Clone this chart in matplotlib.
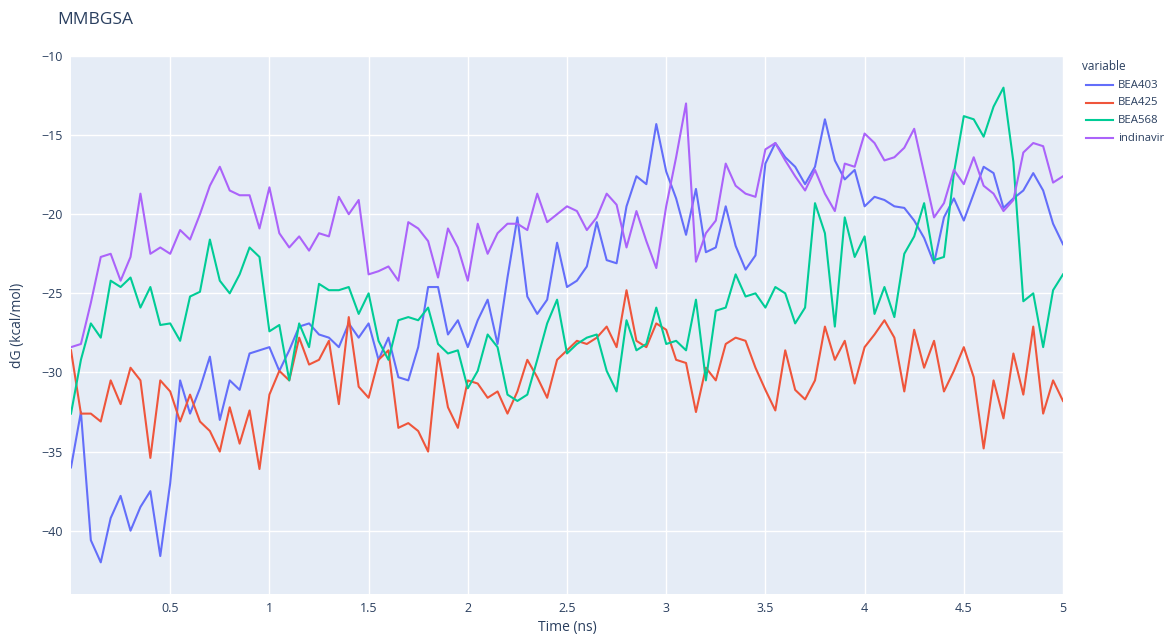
import numpy as np
import matplotlib
matplotlib.use("Agg")
import matplotlib.pyplot as plt
from matplotlib.lines import Line2D

plt.rcParams["font.family"] = ["Open Sans", "DejaVu Sans"]

# ---------- data (0.05 ns grid) ----------
time_ns = np.linspace(0, 5, 101)

bea403 = [-36.0, -32.5, -40.6, -42.0, -39.2, -37.8, -40.0, -38.5, -37.5, -41.6,
          -37.0, -30.5, -32.6, -31.0, -29.0, -33.0, -30.5, -31.1, -28.8, -28.6,
          -28.4, -29.9, -28.6, -27.1, -26.9, -27.6, -27.8, -28.4, -26.9, -27.8,
          -26.9, -29.2, -27.8, -30.3, -30.5, -28.4, -24.6, -24.6, -27.6, -26.7,
          -28.4, -26.7, -25.4, -28.2, -24.0, -20.2, -25.2, -26.3, -25.4, -21.8,
          -24.6, -24.2, -23.3, -20.5, -22.9, -23.1, -19.5, -17.6, -18.1, -14.3,
          -17.3, -19.0, -21.3, -18.4, -22.4, -22.1, -19.5, -22.0, -23.5, -22.6,
          -16.8, -15.5, -16.4, -17.0, -18.1, -17.0, -14.0, -16.6, -17.8, -17.2,
          -19.5, -18.9, -19.1, -19.5, -19.6, -20.4, -21.5, -23.1, -20.2, -19.0,
          -20.4, -18.7, -17.0, -17.4, -19.6, -19.0, -18.5, -17.4, -18.5, -20.6,
          -21.9]

bea425 = [-28.6, -32.6, -32.6, -33.1, -30.5, -32.0, -29.7, -30.5, -35.4, -30.5,
          -31.2, -33.1, -31.4, -33.1, -33.7, -35.0, -32.2, -34.5, -32.4, -36.1,
          -31.4, -29.9, -30.5, -27.8, -29.5, -29.2, -28.0, -32.0, -26.5, -30.9,
          -31.6, -29.2, -28.6, -33.5, -33.2, -33.7, -35.0, -28.8, -32.2, -33.5,
          -30.5, -30.7, -31.6, -31.2, -32.6, -31.2, -29.2, -30.3, -31.6, -29.2,
          -28.6, -28.0, -28.2, -27.8, -27.1, -28.4, -24.8, -28.0, -28.4, -26.9,
          -27.3, -29.2, -29.4, -32.5, -29.7, -30.5, -28.2, -27.8, -28.0, -29.7,
          -31.1, -32.4, -28.6, -31.1, -31.7, -30.5, -27.1, -29.2, -28.0, -30.7,
          -28.4, -27.6, -26.7, -27.8, -31.2, -27.3, -29.7, -28.0, -31.2, -29.9,
          -28.4, -30.3, -34.8, -30.5, -32.9, -28.8, -31.4, -27.1, -32.6, -30.5,
          -31.8]

bea568 = [-32.6, -29.2, -26.9, -27.8, -24.2, -24.6, -24.0, -25.9, -24.6, -27.0,
          -26.9, -28.0, -25.2, -24.9, -21.6, -24.2, -25.0, -23.8, -22.1, -22.7,
          -27.4, -27.0, -30.5, -26.9, -28.4, -24.4, -24.8, -24.8, -24.6, -26.3,
          -25.0, -28.0, -29.2, -26.7, -26.5, -26.7, -25.9, -28.2, -28.8, -28.6,
          -31.0, -29.9, -27.6, -28.4, -31.4, -31.8, -31.4, -29.2, -26.9, -25.4,
          -28.8, -28.2, -27.8, -27.6, -29.9, -31.2, -26.7, -28.6, -28.2, -25.9,
          -28.2, -28.0, -28.6, -25.4, -30.5, -26.1, -25.9, -23.8, -25.2, -25.0,
          -25.9, -24.6, -25.0, -26.9, -25.9, -19.3, -21.2, -27.1, -20.2, -22.7,
          -21.4, -26.3, -24.6, -26.5, -22.5, -21.4, -19.3, -22.9, -22.7, -17.4,
          -13.8, -14.0, -15.1, -13.2, -12.0, -16.7, -25.5, -25.0, -28.4, -24.8,
          -23.8]

indinavir = [-28.4, -28.2, -25.6, -22.7, -22.5, -24.2, -22.7, -18.7, -22.5, -22.1,
             -22.5, -21.0, -21.6, -20.0, -18.2, -17.0, -18.5, -18.8, -18.8, -20.9,
             -18.3, -21.2, -22.1, -21.4, -22.3, -21.2, -21.4, -18.9, -20.0, -19.1,
             -23.8, -23.6, -23.3, -24.2, -20.5, -20.9, -21.7, -24.0, -20.9, -22.1,
             -24.2, -20.6, -22.5, -21.2, -20.6, -20.6, -21.0, -18.7, -20.5, -20.0,
             -19.5, -19.8, -21.0, -20.2, -18.7, -19.4, -22.1, -19.8, -21.7, -23.4,
             -19.5, -16.4, -13.0, -23.0, -21.2, -20.4, -16.8, -18.2, -18.7, -18.9,
             -15.9, -15.5, -16.6, -17.6, -18.5, -17.2, -18.7, -19.8, -16.8, -17.0,
             -14.9, -15.5, -16.6, -16.4, -15.8, -14.6, -17.4, -20.2, -19.3, -17.2,
             -18.1, -16.4, -18.2, -18.7, -19.8, -19.1, -16.1, -15.5, -15.7, -18.0,
             -17.6]

series_names = ["BEA403", "BEA425", "BEA568", "indinavir"]
series_vals = [bea403, bea425, bea568, indinavir]
colors = ["#636EFA", "#EF553B", "#00CC96", "#AB63FA"]
xticks = [0.5, 1, 1.5, 2, 2.5, 3, 3.5, 4, 4.5, 5]
xticklabels = ["0.5", "1", "1.5", "2", "2.5", "3", "3.5", "4", "4.5", "5"]
yticks = [-40, -35, -30, -25, -20, -15, -10]

TXT = "#2a3f5f"
W, H = 1169, 635
fig = plt.figure(figsize=(W / 100, H / 100), dpi=100)
ax = fig.add_axes([71 / W, 1 - 594 / H, (1063 - 71) / W, (594 - 56) / H])
ax.set_facecolor("#E5ECF6")

for name, vals, c in zip(series_names, series_vals, colors):
    ax.plot(time_ns, vals, color=c, lw=1.5, label=name, solid_joinstyle="round")

ax.set_xlim(0, 5)
ax.set_ylim(-44.0, -10)
ax.set_xticks(xticks)
ax.set_xticklabels(xticklabels)
ax.set_yticks(yticks)
ax.set_yticklabels([f"\u2212{abs(v)}" for v in yticks])
ax.grid(color="white", lw=1.0)
ax.set_axisbelow(True)
ax.tick_params(length=0, labelsize=9, colors=TXT, pad=6)
for s in ax.spines.values():
    s.set_visible(False)

fig.text(57 / W, 1 - 20 / H, "MMBGSA", fontsize=12.5, color=TXT, va="center", ha="left")
fig.text(567 / W, 1 - 627 / H, "Time (ns)", fontsize=10, color=TXT, ha="center", va="center")
fig.text(18 / W, 1 - 325 / H, "dG (kcal/mol)", fontsize=10, color=TXT, ha="center",
         va="center", rotation=90)

# legend, drawn plotly-style at the right
fig.text(1082 / W, 1 - 66 / H, "variable", fontsize=8.5, color=TXT, ha="left", va="center")
for i, (name, c) in enumerate(zip(series_names, colors)):
    yy = 1 - (85 + i * 17.7) / H
    fig.add_artist(Line2D([1086 / W, 1113 / W], [yy, yy], color=c, lw=1.5,
                          transform=fig.transFigure))
    fig.text(1118 / W, yy, name, fontsize=8.2, color=TXT, ha="left", va="center")

fig.savefig("out.png", dpi=100, facecolor="white")
